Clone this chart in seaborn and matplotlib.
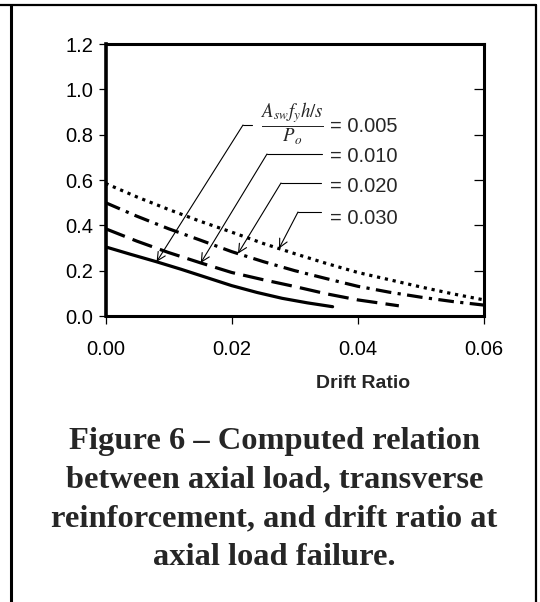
import numpy as np
import pandas as pd
import matplotlib
matplotlib.use("Agg")
import matplotlib.pyplot as plt
from matplotlib.lines import Line2D
import seaborn as sns

# ---------------- data ----------------
ratios = ["0.005", "0.010", "0.020", "0.030"]

drift_005 = [0.000, 0.004, 0.008, 0.012, 0.016, 0.020, 0.024, 0.028, 0.032, 0.036]
load_005 = [0.305, 0.272, 0.240, 0.206, 0.170, 0.134, 0.104, 0.078, 0.058, 0.041]

drift_010 = [0.000, 0.005, 0.010, 0.015, 0.020, 0.025, 0.030, 0.035, 0.040, 0.0465]
load_010 = [0.385, 0.330, 0.280, 0.235, 0.192, 0.160, 0.130, 0.098, 0.071, 0.045]

drift_020 = [0.000, 0.005, 0.010, 0.015, 0.020, 0.025, 0.030, 0.035, 0.040, 0.045, 0.050, 0.055, 0.060]
load_020 = [0.500, 0.440, 0.385, 0.335, 0.284, 0.240, 0.200, 0.165, 0.131, 0.105, 0.083, 0.064, 0.048]

drift_030 = [0.000, 0.005, 0.010, 0.015, 0.020, 0.025, 0.030, 0.035, 0.040, 0.045, 0.050, 0.055, 0.060]
load_030 = [0.585, 0.525, 0.470, 0.418, 0.370, 0.320, 0.275, 0.232, 0.192, 0.160, 0.128, 0.098, 0.071]

xticks = [0.00, 0.02, 0.04, 0.06]
xtick_labels = ["0.00", "0.02", "0.04", "0.06"]
yticks = [0.0, 0.2, 0.4, 0.6, 0.8, 1.0, 1.2]
ytick_labels = ["0.0", "0.2", "0.4", "0.6", "0.8", "1.0", "1.2"]

x_label = "Drift Ratio"
caption_lines = ["Figure 6 \u2013 Computed relation",
                 "between axial load, transverse",
                 "reinforcement, and drift ratio at",
                 "axial load failure."]
fraction_label = r"$\dfrac{A_{sw}f_y h/s}{P_o}$"
# x positions (drift) where each leader arrow touches its curve
arrow_drift = [0.0081, 0.0151, 0.0210, 0.0275]

# ---------------- figure ----------------
sns.set_style("white")
plt.rcParams["font.family"] = ["Liberation Sans", "DejaVu Sans"]
plt.rcParams["mathtext.fontset"] = "stix"

W, H = 540, 602
fig = plt.figure(figsize=(W / 100, H / 100), dpi=100)
fig.patch.set_facecolor("white")


def fx(px):
    return px / W


def fy(py):
    return 1 - py / H


ax_l, ax_r, ax_t, ax_b = 105.5, 484.0, 44.0, 316.0
ax = fig.add_axes([fx(ax_l), fy(ax_b), (ax_r - ax_l) / W, (ax_b - ax_t) / H])

series = {"0.005": (drift_005, load_005), "0.010": (drift_010, load_010),
          "0.020": (drift_020, load_020), "0.030": (drift_030, load_030)}
df = pd.concat([pd.DataFrame({"drift": d, "load": l, "ratio": r})
                for r, (d, l) in series.items()], ignore_index=True)

dashes = {"0.005": "", "0.010": (6.5, 2.6), "0.020": (4.9, 2.0, 1.0, 2.0), "0.030": (1.0, 1.5)}
sns.lineplot(data=df, x="drift", y="load", style="ratio", style_order=ratios,
             dashes=dashes, color="black", linewidth=2.3, legend=False,
             errorbar=None, ax=ax)

ax.set_xlim(0, 0.06)
ax.set_ylim(0, 1.2)
ax.set_xticks(xticks)
ax.set_xticklabels(xtick_labels)
ax.set_yticks(yticks)
ax.set_yticklabels(ytick_labels)
ax.set_xlabel("")
ax.set_ylabel("")
for s in ax.spines.values():
    s.set_visible(True)
    s.set_linewidth(2.2)
    s.set_color("black")
ax.spines["left"].set_linewidth(2.6)
ax.tick_params(axis="y", direction="out", length=5, width=0.9, labelsize=14.5,
               pad=4, colors="black", left=True)
ax.tick_params(axis="x", direction="out", length=6, width=0.9, labelsize=14.5,
               pad=11, colors="black", bottom=True)

ax2 = ax.twinx()
ax2.set_ylim(0, 1.2)
ax2.set_yticks(yticks)
ax2.tick_params(axis="y", direction="in", length=7, width=0.9, labelright=False,
                colors="black")
for s in ax2.spines.values():
    s.set_visible(False)

# x-axis title
fig.text(fx(363), fy(383.5), x_label, ha="center", va="center",
         fontsize=14, fontweight="bold")

# fraction label and the ratio labels
fig.text(fx(292), fy(124), fraction_label, ha="center", va="center", fontsize=13.5)
label_y = [127, 157, 187, 218]
for r, yy in zip(ratios, label_y):
    fig.text(fx(330), fy(yy), "= " + r, ha="left", va="center", fontsize=14.5)

# leader lines with arrows
corners = [(243, 125), (267, 154), (281, 183), (298, 212)]
h_ends = [252, 322, 321, 321]
for (cx, cy), he, r, xd in zip(corners, h_ends, ratios, arrow_drift):
    d, l = series[r]
    yd = float(np.interp(xd, d, l))
    fig.add_artist(Line2D([fx(cx), fx(he)], [fy(cy), fy(cy)],
                          transform=fig.transFigure, color="black", lw=0.8))
    ax.annotate("", xy=(xd, yd), xycoords="data",
                xytext=(fx(cx), fy(cy)), textcoords="figure fraction",
                arrowprops=dict(arrowstyle="->,head_length=0.6,head_width=0.3",
                                color="black", lw=0.8, shrinkA=0, shrinkB=0),
                annotation_clip=False)

# caption
cap_y = [441, 479.5, 518.5, 557.5]
for txt, yy in zip(caption_lines, cap_y):
    fig.text(fx(274.5), fy(yy), txt, ha="center", va="center", fontsize=23.4,
             fontweight="bold", family=["Liberation Serif", "DejaVu Serif"])

# outer frame
fig.add_artist(Line2D([fx(10.5), fx(10.5)], [fy(5), fy(603)], transform=fig.transFigure,
                      color="black", lw=2.2))
fig.add_artist(Line2D([fx(0), fx(536)], [fy(5), fy(5)], transform=fig.transFigure,
                      color="black", lw=1.6))
fig.add_artist(Line2D([fx(535.5), fx(535.5)], [fy(5), fy(603)], transform=fig.transFigure,
                      color="black", lw=1.6))

fig.savefig("out.png", dpi=100, facecolor="white")
